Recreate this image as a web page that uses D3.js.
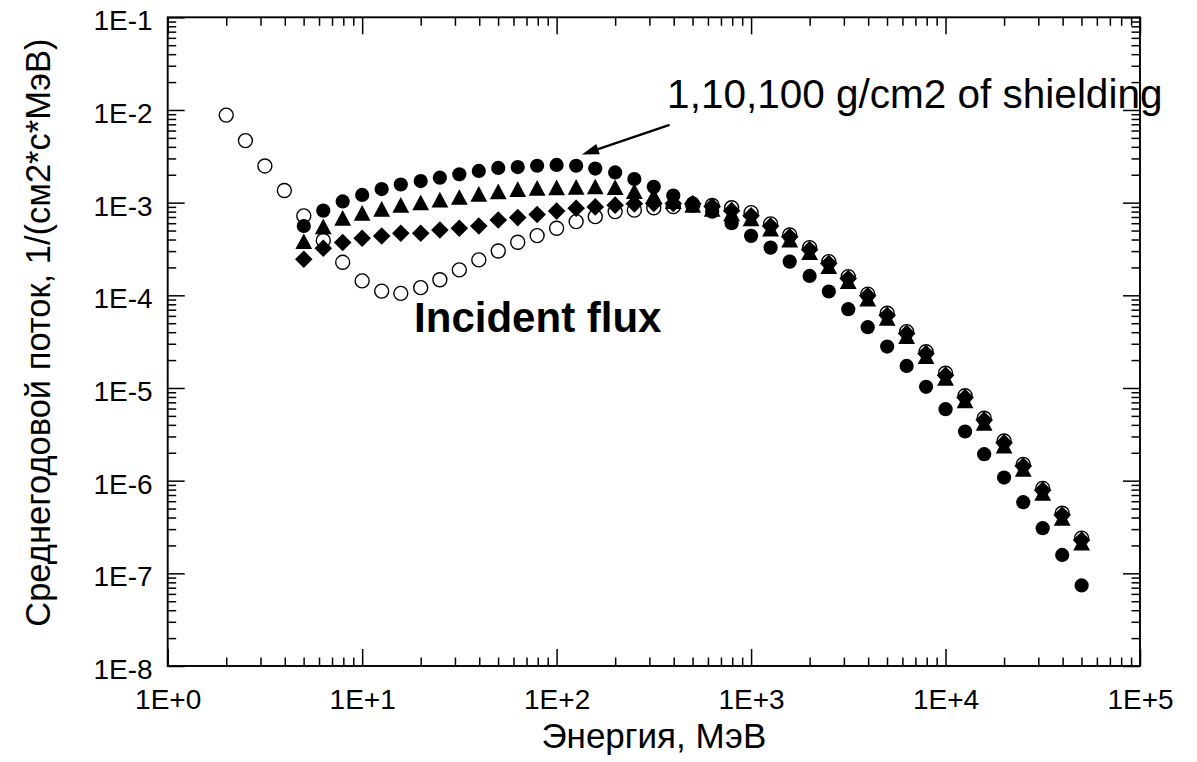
<!DOCTYPE html>
<html><head><meta charset="utf-8">
<script src="https://cdn.jsdelivr.net/npm/d3@7"></script>
<style>
body{margin:0;background:#fff}
svg{display:block}
text{font-family:"Liberation Sans",Arial,sans-serif;fill:#000}
</style>
</head><body>
<svg id="chart" width="1197" height="762"></svg>
<script>
// ---------- data (energy in MeV, flux in 1/(cm2*s*MeV)) ----------
const energyIncident = [2,2.51,3.16,3.98,5.01,6.31,7.94,10,12.6,15.8,20,25.1,31.6,39.8,50.1,63.1,79.4,100,126,158,200,251,316,398,501,631,794,1000,1260,1580,2000,2510,3160,3980,5010,6310,7940,10000,12600,15800,20000,25100,31600,39800,50100];
const fluxIncident = [8.8e-3,4.67e-3,2.49e-3,1.35e-3,7.2e-4,3.9e-4,2.27e-4,1.43e-4,1.11e-4,1.05e-4,
  1.21e-4,1.47e-4,1.88e-4,2.41e-4,3.01e-4,3.74e-4,4.41e-4,5.3e-4,6.24e-4,7.06e-4,
  8.0e-4,8.3e-4,8.8e-4,9.05e-4,9.4e-4,9.3e-4,8.8e-4,7.8e-4,5.9e-4,4.47e-4,
  3.27e-4,2.31e-4,1.59e-4,1.03e-4,6.4e-5,4.06e-5,2.46e-5,1.44e-5,8.25e-6,4.71e-6,
  2.68e-6,1.5e-6,8.25e-7,4.45e-7,2.4e-7];

const energyShielded = [5.01,6.31,7.94,10,12.6,15.8,20,25.1,31.6,39.8,50.1,63.1,79.4,100,126,158,200,251,316,398,501,631,794,1000,1260,1580,2000,2510,3160,3980,5010,6310,7940,10000,12600,15800,20000,25100,31600,39800,50100];
const flux1g = [5.6e-4,8.2e-4,1.03e-3,1.21e-3,1.4e-3,1.57e-3,1.71e-3,1.86e-3,2.02e-3,2.2e-3,
  2.37e-3,2.42e-3,2.5e-3,2.55e-3,2.5e-3,2.33e-3,2.12e-3,1.8e-3,1.48e-3,1.19e-3,
  9.8e-4,8.0e-4,6.0e-4,4.38e-4,3.27e-4,2.31e-4,1.62e-4,1.1e-4,7.08e-5,4.53e-5,
  2.8e-5,1.73e-5,1.03e-5,5.9e-6,3.39e-6,1.93e-6,1.08e-6,5.86e-7,3.07e-7,1.58e-7,
  7.4e-8];
const flux10g = [3.8e-4,5.5e-4,6.8e-4,7.7e-4,8.5e-4,9.4e-4,1.0e-3,1.07e-3,1.14e-3,1.23e-3,
  1.31e-3,1.39e-3,1.43e-3,1.45e-3,1.47e-3,1.48e-3,1.46e-3,1.32e-3,1.18e-3,1.03e-3,
  9.4e-4,8.5e-4,7.6e-4,6.7e-4,5.2e-4,3.96e-4,2.89e-4,2.04e-4,1.41e-4,9.14e-5,
  5.66e-5,3.59e-5,2.18e-5,1.27e-5,7.3e-6,4.17e-6,2.37e-6,1.33e-6,7.3e-7,3.94e-7,
  2.12e-7];
const flux100g = [2.45e-4,3.22e-4,3.71e-4,4.13e-4,4.37e-4,4.68e-4,4.68e-4,5.07e-4,5.29e-4,5.6e-4,
  6.5e-4,6.9e-4,7.45e-4,8.1e-4,8.7e-4,9.0e-4,9.4e-4,9.7e-4,9.8e-4,9.8e-4,
  9.7e-4,9.06e-4,8.2e-4,7.2e-4,5.6e-4,4.28e-4,3.12e-4,2.2e-4,1.52e-4,9.9e-5,
  6.1e-5,3.88e-5,2.35e-5,1.37e-5,7.9e-6,4.5e-6,2.56e-6,1.44e-6,7.9e-7,4.26e-7,
  2.29e-7];

const xMajorTicks = [1,10,100,1000,10000,100000];
const xTickLabels = ["1E+0","1E+1","1E+2","1E+3","1E+4","1E+5"];
const yMajorTicks = [1e-8,1e-7,1e-6,1e-5,1e-4,1e-3,1e-2,1e-1];
const yTickLabels = ["1E-8","1E-7","1E-6","1E-5","1E-4","1E-3","1E-2","1E-1"];

const xTitle = "Энергия, МэВ";
const yTitle = "Среднегодовой поток, 1/(см2*с*МэВ)";
const annShield = "1,10,100 g/cm2 of shielding";
const annIncident = "Incident flux";

// ---------- layout ----------
const L = 167.7, R = 1140, T = 17.3, B = 666;
const svg = d3.select("#chart");
const x = d3.scaleLog().domain([1, 1e5]).range([L, R]);
const y = d3.scaleLog().domain([1e-8, 1e-1]).range([B, T]);

function minorOf(majors){
  const out = [];
  for (let i = 0; i < majors.length - 1; i++)
    for (let m = 2; m <= 9; m++) out.push(majors[i] * m);
  return out;
}
const xMinor = minorOf(xMajorTicks), yMinor = minorOf(yMajorTicks);
const MAJ = 17, MIN = 8.5, FS = 28;

function styleAxis(g){
  g.select(".domain").remove();
  g.selectAll(".tick line").attr("stroke","#000").attr("stroke-width",1.5);
}
const xFmt = d => xTickLabels[xMajorTicks.indexOf(d)];
const yFmt = d => yTickLabels[yMajorTicks.indexOf(d)];
const FF = '"Liberation Sans",Arial,sans-serif';

// bottom
svg.append("g").attr("transform",`translate(0,${B})`)
  .call(d3.axisBottom(x).tickValues(xMajorTicks).tickFormat(xFmt).tickSize(-MAJ).tickPadding(23))
  .call(styleAxis)
  .call(g=>g.selectAll("text").attr("font-size",FS).attr("font-family",FF).attr("fill","#000"));
svg.append("g").attr("transform",`translate(0,${B})`)
  .call(d3.axisBottom(x).tickValues(xMinor).tickFormat("").tickSize(-MIN)).call(styleAxis);
// top
svg.append("g").attr("transform",`translate(0,${T})`)
  .call(d3.axisTop(x).tickValues(xMajorTicks).tickFormat("").tickSize(-MAJ)).call(styleAxis);
svg.append("g").attr("transform",`translate(0,${T})`)
  .call(d3.axisTop(x).tickValues(xMinor).tickFormat("").tickSize(-MIN)).call(styleAxis);
// left
svg.append("g").attr("transform",`translate(${L},0)`)
  .call(d3.axisLeft(y).tickValues(yMajorTicks).tickFormat(yFmt).tickSize(-MAJ).tickPadding(15))
  .call(styleAxis)
  .call(g=>g.selectAll("text").attr("font-size",FS).attr("dy","0.45em").attr("font-family",FF).attr("fill","#000"));
svg.append("g").attr("transform",`translate(${L},0)`)
  .call(d3.axisLeft(y).tickValues(yMinor).tickFormat("").tickSize(-MIN)).call(styleAxis);
// right
svg.append("g").attr("transform",`translate(${R},0)`)
  .call(d3.axisRight(y).tickValues(yMajorTicks).tickFormat("").tickSize(-MAJ)).call(styleAxis);
svg.append("g").attr("transform",`translate(${R},0)`)
  .call(d3.axisRight(y).tickValues(yMinor).tickFormat("").tickSize(-MIN)).call(styleAxis);

// frame
svg.append("rect").attr("x",L).attr("y",T).attr("width",R-L).attr("height",B-T)
  .attr("fill","none").attr("stroke","#000").attr("stroke-width",1.9);

// ---------- markers ----------
const triPath = "M0,-8.2L8.4,7.5L-8.4,7.5Z";
const diaPath = "M0,-8.8L8.8,0L0,8.8L-8.8,0Z";
const dots = svg.append("g");

function pts(ex, fy){ return ex.map((e,i)=>({e, f: fy[i]})); }

dots.append("g").selectAll("circle").data(pts(energyIncident, fluxIncident)).join("circle")
  .attr("cx",d=>x(d.e)).attr("cy",d=>y(d.f)).attr("r",7)
  .attr("fill","none").attr("stroke","#000").attr("stroke-width",1.4);
dots.append("g").selectAll("circle").data(pts(energyShielded, flux1g)).join("circle")
  .attr("cx",d=>x(d.e)).attr("cy",d=>y(d.f)).attr("r",7.1).attr("fill","#000");
dots.append("g").selectAll("path").data(pts(energyShielded, flux10g)).join("path")
  .attr("d",triPath).attr("transform",d=>`translate(${x(d.e)},${y(d.f)})`).attr("fill","#000");
dots.append("g").selectAll("path").data(pts(energyShielded, flux100g)).join("path")
  .attr("d",diaPath).attr("transform",d=>`translate(${x(d.e)},${y(d.f)})`).attr("fill","#000");

// ---------- annotations ----------
const tip = [x(135), y(3.3e-3)], tail = [x(381), y(6.9e-3)];
const ang = Math.atan2(tail[1]-tip[1], tail[0]-tip[0]);
const hl = 17, hw = 5.5;
const base = [tip[0]+hl*Math.cos(ang), tip[1]+hl*Math.sin(ang)];
svg.append("line").attr("x1",tail[0]).attr("y1",tail[1]).attr("x2",base[0]).attr("y2",base[1])
  .attr("stroke","#000").attr("stroke-width",2.2);
svg.append("path").attr("fill","#000").attr("d",
  `M${tip[0]},${tip[1]}L${base[0]-hw*Math.sin(ang)},${base[1]+hw*Math.cos(ang)}L${base[0]+hw*Math.sin(ang)},${base[1]-hw*Math.cos(ang)}Z`);

svg.append("text").attr("x",x(370)).attr("y",y(1.05e-2)).attr("font-size",40.5).text(annShield);
svg.append("text").attr("x",x(18.5)).attr("y",y(4.06e-5)).attr("font-size",42).attr("font-weight","bold").text(annIncident);

// axis titles
svg.append("text").attr("x",(L+R)/2).attr("y",748).attr("text-anchor","middle").attr("font-size",35).text(xTitle);
svg.append("text").attr("transform",`translate(50,${(T+B)/2 - 9}) rotate(-90)`).attr("text-anchor","middle").attr("font-size",34.5).text(yTitle);
</script>
</body></html>
